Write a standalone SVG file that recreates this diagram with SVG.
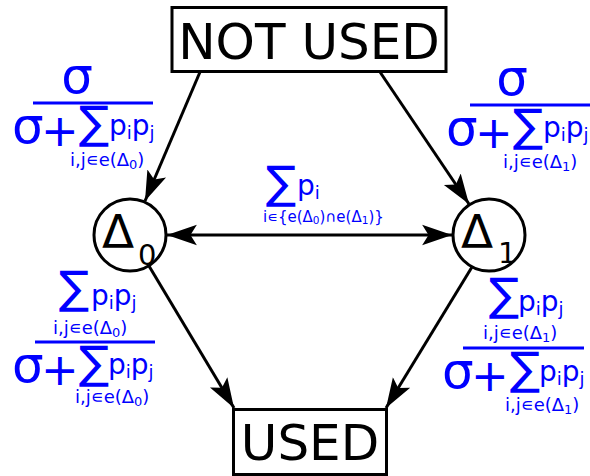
<svg xmlns="http://www.w3.org/2000/svg" width="590" height="476" viewBox="0 0 590 476">
<style>
text{font-family:"DejaVu Sans","Liberation Sans",sans-serif}
.box{fill:#fff;stroke:#000;stroke-width:3}
.circ{fill:#fff;stroke:#000;stroke-width:3}
.lbl{font-size:50px;fill:#000}
.dl{font-size:47px;fill:#000}
.ds{font-size:29px;fill:#000}
.edge{stroke:#000;stroke-width:3;fill:none}
.m{fill:#00f}
.big{font-size:50px}
.plus{font-size:45px}
.sum{font-size:45px}
.pp{font-size:28px}
.sb{font-size:18px}
.sub{font-size:18px}
.fl{stroke:#00f;stroke-width:3}
</style>
<defs>
<marker id="ah" markerUnits="userSpaceOnUse" markerWidth="32" markerHeight="24" viewBox="-28 -10 30 20" refX="0" refY="0" orient="auto-start-reverse">
<path d="M0,0 L-28,-9.5 L-22,0 L-28,9.5 Z" fill="#000"/>
</marker>
</defs>
<g id="edges">
<line class="edge" x1="200" y1="72" x2="145" y2="201" marker-end="url(#ah)"/>
<line class="edge" x1="380" y1="72" x2="469" y2="204" marker-end="url(#ah)"/>
<line class="edge" x1="149" y1="266" x2="234" y2="408" marker-end="url(#ah)"/>
<line class="edge" x1="472" y1="267" x2="386" y2="408" marker-end="url(#ah)"/>
<line class="edge" x1="167" y1="235" x2="452" y2="235" marker-start="url(#ah)" marker-end="url(#ah)"/>
</g>
<g id="notused">
<rect class="box" x="172" y="7.5" width="274" height="64"/>
<text class="lbl" x="309" y="59" text-anchor="middle">NOT USED</text>
</g>
<g id="used">
<rect class="box" x="233.5" y="409.5" width="153" height="65"/>
<text class="lbl" x="310" y="460" text-anchor="middle">USED</text>
</g>
<g id="delta0">
<circle class="circ" cx="130" cy="235" r="36"/>
<text class="dl" x="102" y="248">Δ</text>
<text class="ds" x="138" y="265">0</text>
</g>
<g id="delta1">
<circle class="circ" cx="489" cy="235" r="36"/>
<text class="dl" x="461" y="248">Δ</text>
<text class="ds" x="498" y="263">1</text>
</g>
<g id="label-top-left" class="m">
<text class="big" x="77" y="93" text-anchor="middle">σ</text>
<line class="fl" x1="33" y1="103" x2="153" y2="103"/>
<text class="big" x="12" y="143">σ</text>
<text class="plus" x="41" y="146">+</text>
<text class="sum" x="79" y="138">∑</text>
<text class="pp" x="109" y="135">p<tspan class="sb" dy="4">i</tspan><tspan dy="-4">p</tspan><tspan class="sb" dy="4">j</tspan></text>
<text class="sub" x="70" y="166">i,j∊e(Δ<tspan font-size="13" dy="3">0</tspan><tspan dy="-3">)</tspan></text>
</g>
<g id="label-top-right" class="m">
<text class="big" x="512" y="95" text-anchor="middle">σ</text>
<line class="fl" x1="470" y1="105" x2="590" y2="105"/>
<text class="big" x="446" y="145">σ</text>
<text class="plus" x="475" y="148">+</text>
<text class="sum" x="513" y="141">∑</text>
<text class="pp" x="543" y="137">p<tspan class="sb" dy="4">i</tspan><tspan dy="-4">p</tspan><tspan class="sb" dy="4">j</tspan></text>
<text class="sub" x="503" y="168">i,j∊e(Δ<tspan font-size="13" dy="3">1</tspan><tspan dy="-3">)</tspan></text>
</g>
<g id="label-middle" class="m">
<text class="sum" x="266" y="198">∑</text>
<text class="pp" x="297" y="195">p<tspan class="sb" dy="4">i</tspan></text>
<text font-size="15" x="263" y="222">i∊{e(Δ<tspan font-size="10.5" dy="2">0</tspan><tspan dy="-2">)∩e(Δ</tspan><tspan font-size="10.5" dy="2">1</tspan><tspan dy="-2">)}</tspan></text>
</g>
<g id="label-bottom-left" class="m">
<text class="sum" x="59" y="303">∑</text>
<text class="pp" x="91" y="305">p<tspan class="sb" dy="4">i</tspan><tspan dy="-4">p</tspan><tspan class="sb" dy="4">j</tspan></text>
<text class="sub" x="53" y="334">i,j∊e(Δ<tspan font-size="13" dy="3">0</tspan><tspan dy="-3">)</tspan></text>
<line class="fl" x1="35" y1="342" x2="155" y2="342"/>
<text class="big" x="12" y="382">σ</text>
<text class="plus" x="41" y="385">+</text>
<text class="sum" x="79" y="378">∑</text>
<text class="pp" x="108" y="374">p<tspan class="sb" dy="4">i</tspan><tspan dy="-4">p</tspan><tspan class="sb" dy="4">j</tspan></text>
<text class="sub" x="75" y="403">i,j∊e(Δ<tspan font-size="13" dy="3">0</tspan><tspan dy="-3">)</tspan></text>
</g>
<g id="label-bottom-right" class="m">
<text class="sum" x="489" y="310">∑</text>
<text class="pp" x="518" y="311">p<tspan class="sb" dy="4">i</tspan><tspan dy="-4">p</tspan><tspan class="sb" dy="4">j</tspan></text>
<text class="sub" x="483" y="339">i,j∊e(Δ<tspan font-size="13" dy="3">1</tspan><tspan dy="-3">)</tspan></text>
<line class="fl" x1="463" y1="348" x2="584" y2="348"/>
<text class="big" x="442" y="388">σ</text>
<text class="plus" x="471" y="391">+</text>
<text class="sum" x="510" y="384">∑</text>
<text class="pp" x="539" y="381">p<tspan class="sb" dy="4">i</tspan><tspan dy="-4">p</tspan><tspan class="sb" dy="4">j</tspan></text>
<text class="sub" x="505" y="411">i,j∊e(Δ<tspan font-size="13" dy="3">1</tspan><tspan dy="-3">)</tspan></text>
</g>
</svg>
